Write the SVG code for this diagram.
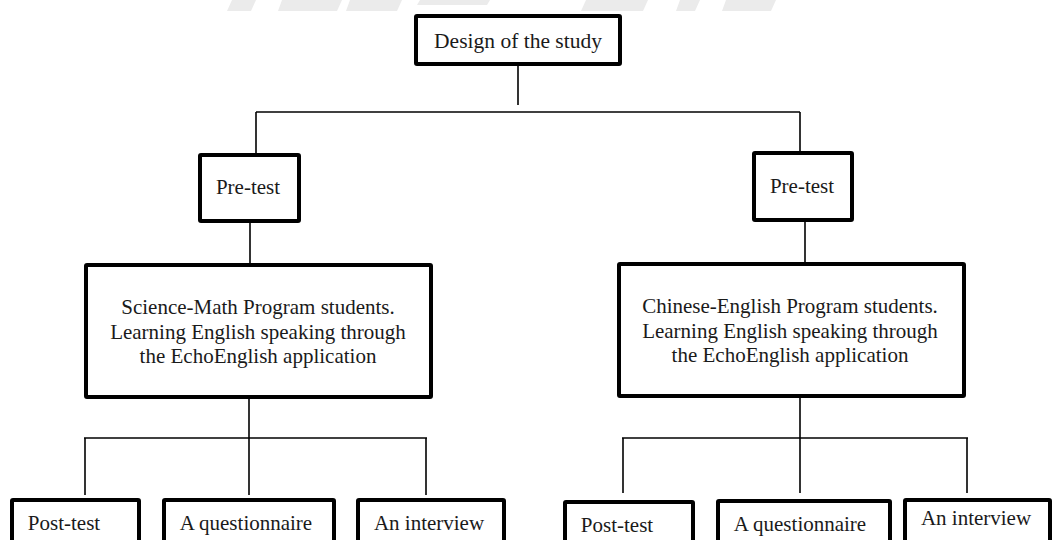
<svg xmlns="http://www.w3.org/2000/svg" width="1055" height="540" viewBox="0 0 1055 540">
<style>
.box{fill:#fff;stroke:#000;stroke-width:4;}
.t{font-family:"Liberation Serif","Times New Roman",serif;font-size:21px;fill:#1a1a1a;text-anchor:middle;}
.c{stroke:#000;stroke-width:1.6;fill:none;}
.wm{fill:#ebebeb;}
</style>
<rect width="1055" height="540" fill="#fff"/>
<g id="watermark">
<polygon class="wm" points="232,0 256,0 251,11 227,11"/>
<polygon class="wm" points="282,0 342,0 337,11 278,11"/>
<polygon class="wm" points="350,0 402,0 397,11 346,11"/>
<polygon class="wm" points="420,0 490,0 487,5 417,5"/>
<polygon class="wm" points="586,0 648,0 643,11 581,11"/>
<polygon class="wm" points="680,0 700,0 695,11 676,11"/>
<polygon class="wm" points="726,0 776,0 771,11 722,11"/>
</g>
<g id="connectors">
<line class="c" x1="518" y1="66" x2="518" y2="105"/>
<line class="c" x1="256" y1="112" x2="800" y2="112"/>
<line class="c" x1="256" y1="112" x2="256" y2="153"/>
<line class="c" x1="800" y1="112" x2="800" y2="151"/>
<line class="c" x1="250" y1="223" x2="250" y2="263"/>
<line class="c" x1="805" y1="222" x2="805" y2="262"/>
<line class="c" x1="249" y1="399" x2="249" y2="495"/>
<line class="c" x1="84" y1="438" x2="427" y2="438"/>
<line class="c" x1="85" y1="438" x2="85" y2="495"/>
<line class="c" x1="426" y1="438" x2="426" y2="495"/>
<line class="c" x1="800" y1="398" x2="800" y2="493"/>
<line class="c" x1="622" y1="438" x2="968" y2="438"/>
<line class="c" x1="623" y1="438" x2="623" y2="493"/>
<line class="c" x1="967" y1="438" x2="967" y2="493"/>
</g>
<g id="design">
<rect class="box" x="416" y="16" width="204" height="48" rx="1"/>
<text class="t" x="518" y="48" style="font-size:21.5px">Design of the study</text>
</g>
<g id="pretest-left">
<rect class="box" x="200" y="155" width="99" height="66" rx="1"/>
<text class="t" x="248" y="194">Pre-test</text>
</g>
<g id="pretest-right">
<rect class="box" x="754" y="153" width="98" height="67" rx="1"/>
<text class="t" x="802" y="193">Pre-test</text>
</g>
<g id="sci-math">
<rect class="box" x="86" y="265" width="345" height="132" rx="1"/>
<text class="t" x="258" y="314">Science-Math Program students.</text>
<text class="t" x="258" y="339">Learning English speaking through</text>
<text class="t" x="258" y="363">the EchoEnglish application</text>
</g>
<g id="chi-eng">
<rect class="box" x="619" y="264" width="345" height="132" rx="1"/>
<text class="t" x="790" y="313">Chinese-English Program students.</text>
<text class="t" x="790" y="338">Learning English speaking through</text>
<text class="t" x="790" y="362">the EchoEnglish application</text>
</g>
<g id="post-left">
<rect class="box" x="12" y="500" width="127" height="60" rx="1"/>
<text class="t" x="64" y="530">Post-test</text>
</g>
<g id="quest-left">
<rect class="box" x="164" y="500" width="170" height="60" rx="1"/>
<text class="t" x="246" y="530">A questionnaire</text>
</g>
<g id="interview-left">
<rect class="box" x="358" y="500" width="146" height="60" rx="1"/>
<text class="t" x="429" y="530">An interview</text>
</g>
<g id="post-right">
<rect class="box" x="565" y="502" width="128" height="60" rx="1"/>
<text class="t" x="617" y="532">Post-test</text>
</g>
<g id="quest-right">
<rect class="box" x="718" y="501" width="172" height="60" rx="1"/>
<text class="t" x="800" y="531">A questionnaire</text>
</g>
<g id="interview-right">
<rect class="box" x="905" y="500" width="145" height="60" rx="1"/>
<text class="t" x="976" y="525">An interview</text>
</g>
</svg>
